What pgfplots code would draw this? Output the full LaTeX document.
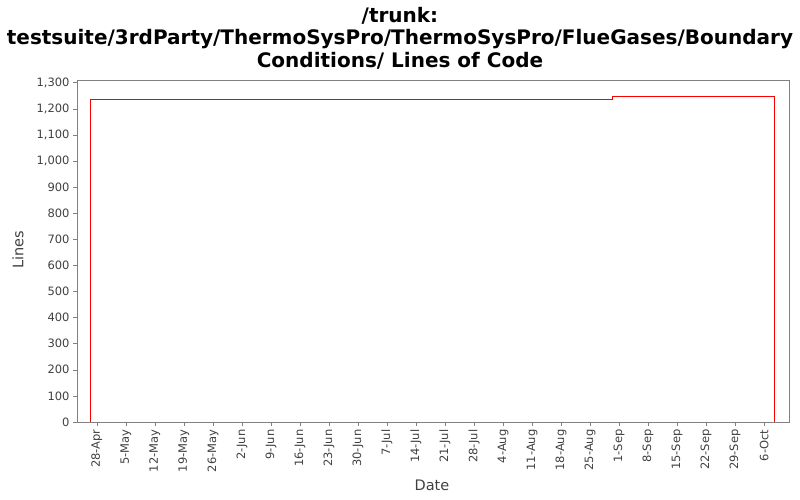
\documentclass[border=0pt]{standalone}
\usepackage{pgfplots}
\pgfplotsset{compat=1.18}
\usepackage{fontspec}
\setmainfont{DejaVu Sans}
\definecolor{axisgray}{RGB}{128,128,128}
\definecolor{ticktext}{RGB}{64,64,64}
\begin{document}
\begin{tikzpicture}[x=1pt,y=1pt]
\path[use as bounding box] (-77,-78) rectangle (723,422);
\begin{axis}[
    at={(0,0)}, anchor=south west,
    scale only axis,
    width=712pt, height=342pt,
    xmin=-4.8, xmax=167,
    ymin=0, ymax=1310,
    axis line style={axisgray},
    tick style={axisgray, thin},
    tick align=outside,
    major tick length=4pt,
    xtick={0,7,...,161},
    xticklabels={28-Apr,5-May,12-May,19-May,26-May,2-Jun,9-Jun,16-Jun,23-Jun,30-Jun,7-Jul,14-Jul,21-Jul,28-Jul,4-Aug,11-Aug,18-Aug,25-Aug,1-Sep,8-Sep,15-Sep,22-Sep,29-Sep,6-Oct},
    x tick label style={rotate=90, anchor=east, font=\fontsize{11.5}{13}\selectfont, text=ticktext},
    ytick={0,100,...,1300},
    y tick label style={font=\fontsize{11.5}{13}\selectfont, text=ticktext},
    /pgf/number format/assume math mode=true,
    /pgf/number format/1000 sep={,},
    xtick pos=bottom, ytick pos=left,
    clip=false,
]
\addplot[red, line width=0.9pt, const plot] coordinates {
    (-1.5,0) (-1.5,1236) (124.3,1236) (124.3,1248) (163.4,1248) (163.4,0)
};
\end{axis}
\node[align=center, font=\bfseries\fontsize{20}{22.5}\selectfont] at (323,384)
    {/trunk:\\testsuite/3rdParty/ThermoSysPro/ThermoSysPro/FlueGases/Boundary\\Conditions/ Lines of Code};
\node[rotate=90, font=\fontsize{14.5}{16}\selectfont, text=ticktext] at (-59,172) {Lines};
\node[font=\fontsize{14.5}{16}\selectfont, text=ticktext] at (355,-63) {Date};
\end{tikzpicture}
\end{document}
